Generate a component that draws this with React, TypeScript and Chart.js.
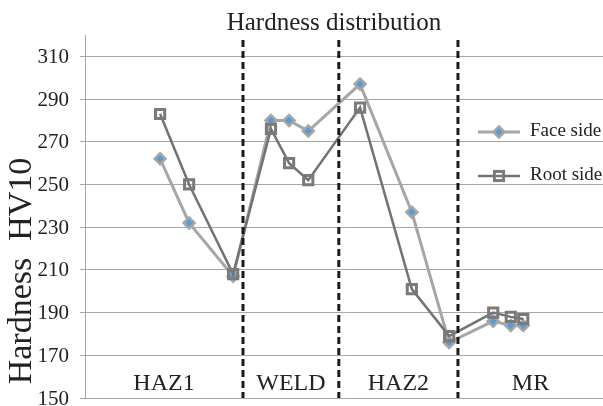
import React, { useEffect, useRef } from 'react';
import { Chart, registerables } from 'chart.js';

Chart.register(...registerables);

// ---- data ----
const positions = [14.5, 20.1, 28.6, 35.9, 39.4, 43.1, 53.1, 63.1, 70.3, 78.8, 82.2, 84.6];
const faceSide = [262, 232, 207, 280, 280, 275, 297, 237, 176, 186, 184, 184];
const rootSide = [283, 250, 208, 276, 260, 252, 286, 201, 179, 190, 188, 187];
const zoneBounds = [30.5, 49.0, 72.0];
const zoneLabels = ['HAZ1', 'WELD', 'HAZ2', 'MR'];
const yTicks = [150, 170, 190, 210, 230, 250, 270, 290, 310];
const seriesNames = ['Face side', 'Root side'];
const chartTitle = 'Hardness distribution';
const yTitle = 'Hardness  HV10';
const X_MIN = 0;
const X_MAX = 100;
const Y_MIN = 150;
const Y_MAX = 320;

const FONT = "'Liberation Serif', 'Times New Roman', serif";
const FACE_LINE = '#A6A6A6';
const FACE_FILL = '#5B9BD5';
const ROOT_LINE = '#737373';
const ROOT_MARK = '#7A7A7A';
const TEXT = '#222222';

function drawDiamond(ctx: CanvasRenderingContext2D, x: number, y: number, r: number) {
  ctx.save();
  ctx.beginPath();
  ctx.moveTo(x, y - r);
  ctx.lineTo(x + r, y);
  ctx.lineTo(x, y + r);
  ctx.lineTo(x - r, y);
  ctx.closePath();
  ctx.fillStyle = FACE_FILL;
  ctx.fill();
  ctx.lineWidth = 2.5;
  ctx.strokeStyle = FACE_LINE;
  ctx.stroke();
  ctx.restore();
}

function drawSquare(ctx: CanvasRenderingContext2D, x: number, y: number, r: number) {
  const s = r * Math.SQRT1_2;
  ctx.save();
  ctx.lineWidth = 3;
  ctx.strokeStyle = ROOT_MARK;
  ctx.strokeRect(x - s, y - s, 2 * s, 2 * s);
  ctx.restore();
}

const overlayPlugin = {
  id: 'overlay',
  afterDatasetsDraw(chart: any) {
    const { ctx, chartArea, scales } = chart;
    const xs = scales.x;
    // dashed zone separators
    ctx.save();
    ctx.strokeStyle = '#1A1A1A';
    ctx.lineWidth = 3;
    ctx.setLineDash([7, 4]);
    zoneBounds.forEach((b) => {
      const px = xs.getPixelForValue(b);
      ctx.beginPath();
      ctx.moveTo(px, chartArea.top + 5);
      ctx.lineTo(px, chartArea.bottom);
      ctx.stroke();
    });
    ctx.restore();

    // zone labels
    const edges = [X_MIN, ...zoneBounds, X_MAX];
    ctx.save();
    ctx.font = `24px ${FONT}`;
    ctx.fillStyle = TEXT;
    ctx.textAlign = 'center';
    ctx.textBaseline = 'alphabetic';
    zoneLabels.forEach((lab, i) => {
      const cx = xs.getPixelForValue((edges[i] + edges[i + 1]) / 2);
      ctx.fillText(lab, cx, chartArea.bottom - 8);
    });
    ctx.restore();
  },
  afterDraw(chart: any) {
    const { ctx, chartArea, scales } = chart;
    // y tick labels
    ctx.save();
    ctx.font = `21px ${FONT}`;
    ctx.fillStyle = TEXT;
    ctx.textAlign = 'right';
    ctx.textBaseline = 'middle';
    yTicks.forEach((v) => {
      ctx.fillText(String(v), chartArea.left - 16, scales.y.getPixelForValue(v) + 1);
    });
    ctx.restore();

    // title
    ctx.save();
    ctx.font = `25px ${FONT}`;
    ctx.fillStyle = TEXT;
    ctx.textAlign = 'center';
    ctx.textBaseline = 'alphabetic';
    ctx.fillText(chartTitle, (chartArea.left + chartArea.right) / 2 - 10, 30);
    ctx.restore();

    // y axis title
    ctx.save();
    ctx.translate(22, 271);
    ctx.rotate(-Math.PI / 2);
    ctx.font = `34px ${FONT}`;
    ctx.fillStyle = TEXT;
    ctx.textAlign = 'center';
    ctx.textBaseline = 'middle';
    ctx.fillText(yTitle, 0, 0);
    ctx.restore();

    // legend
    const lx0 = chartArea.right - 125;
    const lx1 = chartArea.right - 83;
    const mx = (lx0 + lx1) / 2;
    const ly = [132, 176];
    ctx.save();
    ctx.lineWidth = 3;
    ctx.strokeStyle = FACE_LINE;
    ctx.beginPath();
    ctx.moveTo(lx0, ly[0]);
    ctx.lineTo(lx1, ly[0]);
    ctx.stroke();
    drawDiamond(ctx, mx, ly[0], 5.5);
    ctx.lineWidth = 2.5;
    ctx.strokeStyle = ROOT_LINE;
    ctx.beginPath();
    ctx.moveTo(lx0, ly[1]);
    ctx.lineTo(lx1, ly[1]);
    ctx.stroke();
    drawSquare(ctx, mx, ly[1], 6.5);
    ctx.font = `19px ${FONT}`;
    ctx.fillStyle = TEXT;
    ctx.textAlign = 'left';
    ctx.textBaseline = 'middle';
    ctx.fillText(seriesNames[0], lx1 + 10, ly[0] - 1);
    ctx.fillText(seriesNames[1], lx1 + 10, ly[1] - 1);
    ctx.restore();
  },
};

export default function App() {
  const ref = useRef<HTMLCanvasElement | null>(null);

  useEffect(() => {
    if (!ref.current) return;
    const chart = new Chart(ref.current, {
      type: 'line',
      data: {
        datasets: [
          {
            label: seriesNames[0],
            data: positions.map((x, i) => ({ x, y: faceSide[i] })),
            borderColor: FACE_LINE,
            borderWidth: 3,
            pointStyle: 'rectRot',
            pointRadius: 5.5,
            pointBackgroundColor: FACE_FILL,
            pointBorderColor: FACE_LINE,
            pointBorderWidth: 2.5,
            tension: 0,
            order: 1,
          },
          {
            label: seriesNames[1],
            data: positions.map((x, i) => ({ x, y: rootSide[i] })),
            borderColor: ROOT_LINE,
            borderWidth: 2.5,
            pointStyle: 'rect',
            pointRadius: 6.5,
            pointBackgroundColor: 'rgba(0,0,0,0)',
            pointBorderColor: ROOT_MARK,
            pointBorderWidth: 3,
            tension: 0,
            order: 0,
          },
        ],
      },
      options: {
        responsive: false,
        animation: false,
        events: [],
        layout: { autoPadding: false, padding: { top: 35, bottom: 8, left: 80, right: 0 } },
        plugins: {
          legend: { display: false },
          tooltip: { enabled: false },
          title: { display: false },
        },
        scales: {
          x: {
            type: 'linear',
            min: X_MIN,
            max: X_MAX,
            display: false,
          },
          y: {
            type: 'linear',
            min: Y_MIN,
            max: Y_MAX,
            afterBuildTicks: (axis: any) => {
              axis.ticks = yTicks.map((v) => ({ value: v }));
            },
            afterFit: (scale: any) => {
              scale.width = 5;
            },
            ticks: { display: false },
            grid: {
              color: '#A6A6A6',
              lineWidth: 1,
              tickLength: 5,
              drawTicks: true,
            },
            border: { color: '#A6A6A6', width: 1 },
          },
        },
      },
      plugins: [overlayPlugin],
    });
    return () => chart.destroy();
  }, []);

  return (
    <div style={{ position: 'absolute', left: 0, top: 0, width: 603, height: 406, background: '#fff' }}>
      <canvas ref={ref} width={603} height={406} style={{ display: 'block' }} />
    </div>
  );
}
